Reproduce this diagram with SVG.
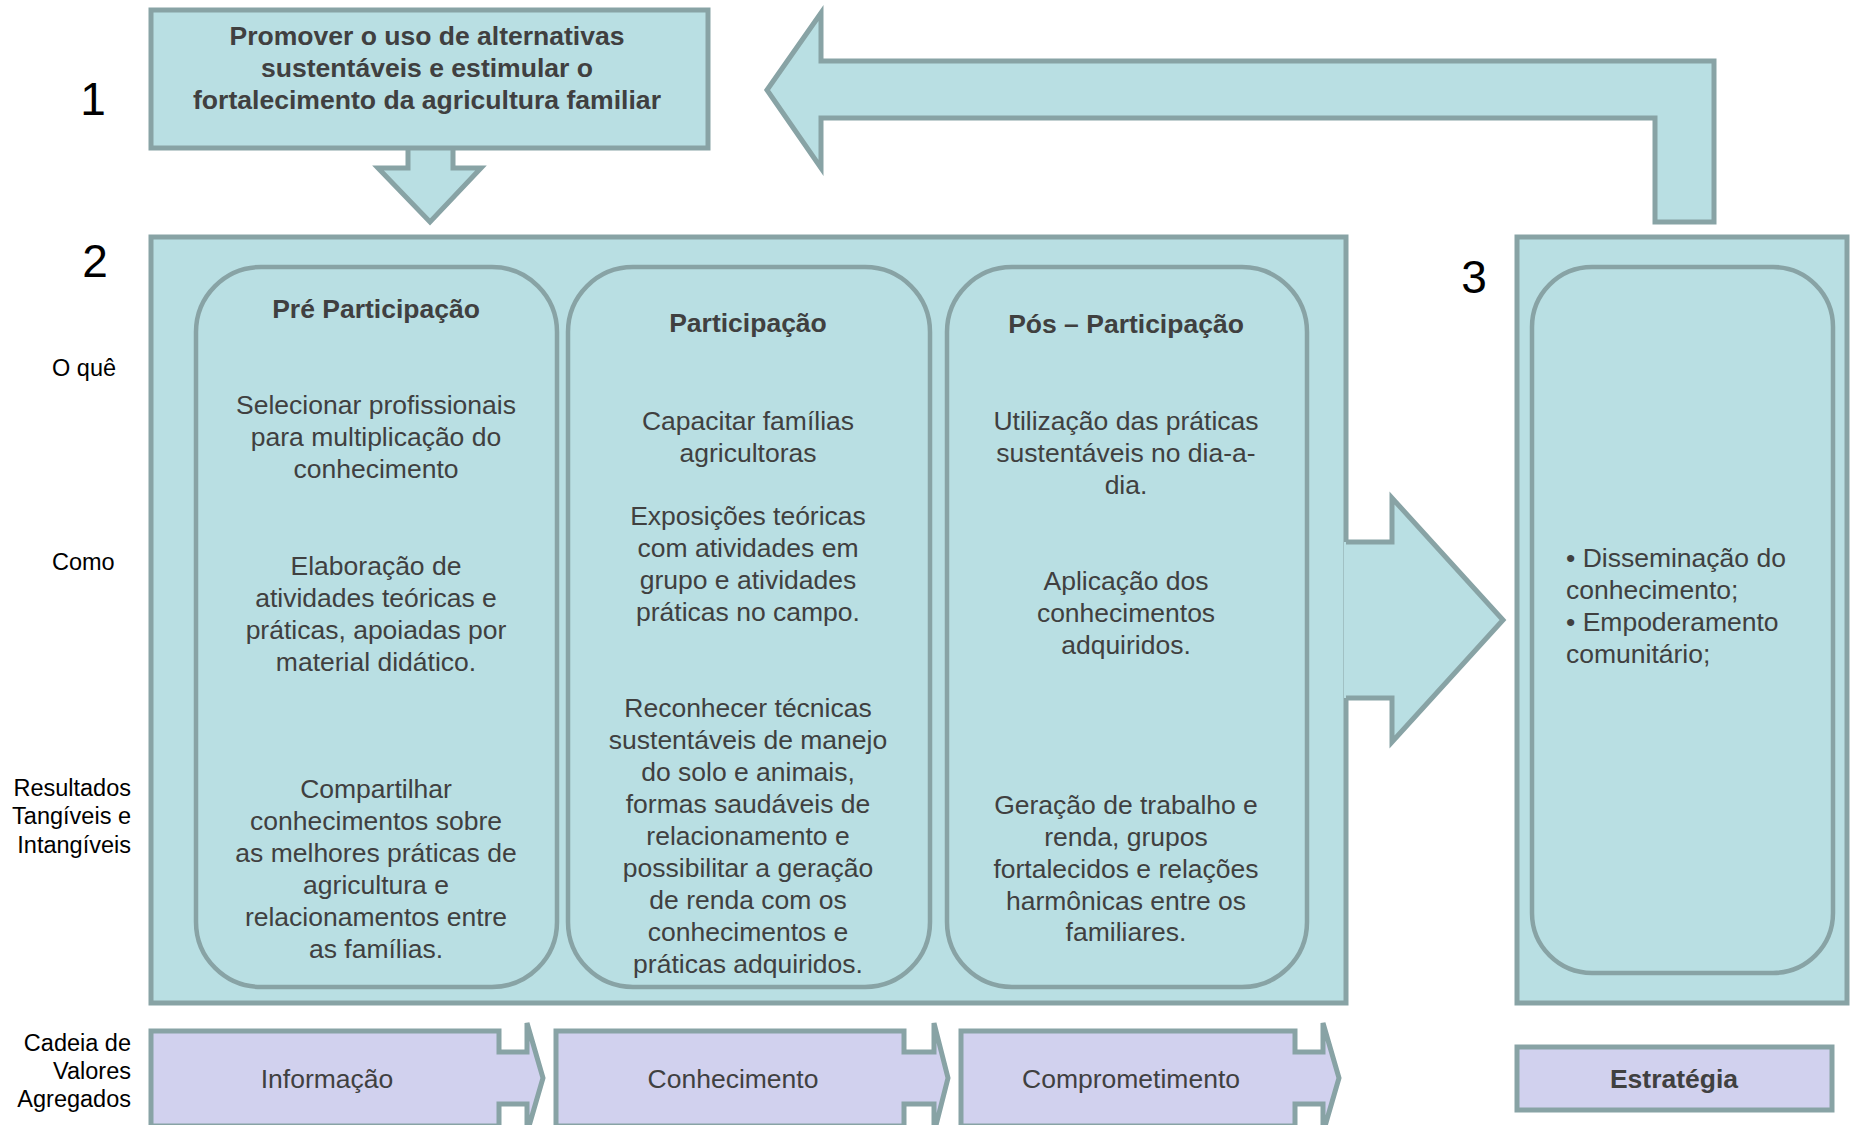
<svg xmlns="http://www.w3.org/2000/svg" width="1853" height="1125" viewBox="0 0 1853 1125">
<style>
.sh{fill:#b9dfe3;stroke:#88a3a5;stroke-width:5;stroke-linejoin:miter}
.col{fill:#b9dfe3;stroke:#88a3a5;stroke-width:4.5}
.lav{fill:#d1d1ee;stroke:#88a3a5;stroke-width:5}
.ln{fill:none;stroke:#88a3a5;stroke-width:5}
text{font-family:"Liberation Sans",Arial,sans-serif;fill:#404040}
.t{font-size:26.5px;text-anchor:middle}
.b{font-size:26.5px;font-weight:bold;text-anchor:middle}
.lab{font-size:23.5px;fill:#000;text-anchor:end}
.labl{font-size:23.5px;fill:#000}
.num{font-size:46px;fill:#000;text-anchor:middle}
</style>
<rect width="1853" height="1125" fill="#ffffff"/>
<g id="connectors">
<polygon class="sh" points="408,140 453,140 453,168 481,168 430,222 378,168 408,168"/>
<polygon class="sh" points="767,90 821,13 821,61 1714,61 1714,222 1655,222 1655,118 821,118 821,168"/>
</g>
<g id="labels">
<text class="num" x="93" y="115">1</text>
<text class="num" x="95" y="277">2</text>
<text class="num" x="1474" y="293">3</text>
<text class="labl" x="52" y="376">O quê</text>
<text class="labl" x="52" y="570">Como</text>
<text class="lab" x="131" y="796">Resultados</text>
<text class="lab" x="131" y="824">Tangíveis e</text>
<text class="lab" x="131" y="853">Intangíveis</text>
<text class="lab" x="131" y="1051">Cadeia de</text>
<text class="lab" x="131" y="1079">Valores</text>
<text class="lab" x="131" y="1107">Agregados</text>
</g>
<g id="node1">
<rect class="sh" x="151" y="10" width="557" height="138"/>
<text class="b" x="427" y="45" font-size="26" textLength="395" lengthAdjust="spacingAndGlyphs">Promover o uso de alternativas</text>
<text class="b" x="427" y="77" font-size="26" textLength="332" lengthAdjust="spacingAndGlyphs">sustentáveis e estimular o</text>
<text class="b" x="427" y="109" font-size="26" textLength="468" lengthAdjust="spacingAndGlyphs">fortalecimento da agricultura familiar</text>
</g>
<g id="node2">
<rect class="sh" x="151" y="237" width="1195" height="766"/>
</g>
<g id="arrow23">
<polygon points="1344,542 1392,542 1392,498 1503,620 1392,742 1392,698 1344,698" fill="#b9dfe3"/>
<polyline class="ln" points="1346,542 1392,542 1392,498 1503,620 1392,742 1392,698 1346,698"/>
</g>
<g id="col1">
<rect class="col" x="196" y="267" width="361" height="720" rx="65" ry="65"/>
<text class="b" x="376" y="318">Pré Participação</text>
<text class="t" x="376" y="414">Selecionar profissionais</text>
<text class="t" x="376" y="446">para multiplicação do</text>
<text class="t" x="376" y="478">conhecimento</text>
<text class="t" x="376" y="575">Elaboração de</text>
<text class="t" x="376" y="607">atividades teóricas e</text>
<text class="t" x="376" y="639">práticas, apoiadas por</text>
<text class="t" x="376" y="671">material didático.</text>
<text class="t" x="376" y="798">Compartilhar</text>
<text class="t" x="376" y="830">conhecimentos sobre</text>
<text class="t" x="376" y="862">as melhores práticas de</text>
<text class="t" x="376" y="894">agricultura e</text>
<text class="t" x="376" y="926">relacionamentos entre</text>
<text class="t" x="376" y="958">as famílias.</text>
</g>
<g id="col2">
<rect class="col" x="568" y="267" width="362" height="720" rx="65" ry="65"/>
<text class="b" x="748" y="332">Participação</text>
<text class="t" x="748" y="430">Capacitar famílias</text>
<text class="t" x="748" y="462">agricultoras</text>
<text class="t" x="748" y="525">Exposições teóricas</text>
<text class="t" x="748" y="557">com atividades em</text>
<text class="t" x="748" y="589">grupo e atividades</text>
<text class="t" x="748" y="621">práticas no campo.</text>
<text class="t" x="748" y="717">Reconhecer técnicas</text>
<text class="t" x="748" y="749">sustentáveis de manejo</text>
<text class="t" x="748" y="781">do solo e animais,</text>
<text class="t" x="748" y="813">formas saudáveis de</text>
<text class="t" x="748" y="845">relacionamento e</text>
<text class="t" x="748" y="877">possibilitar a geração</text>
<text class="t" x="748" y="909">de renda com os</text>
<text class="t" x="748" y="941">conhecimentos e</text>
<text class="t" x="748" y="973">práticas adquiridos.</text>
</g>
<g id="col3">
<rect class="col" x="947" y="267" width="360" height="720" rx="65" ry="65"/>
<text class="b" x="1126" y="333">Pós – Participação</text>
<text class="t" x="1126" y="430">Utilização das práticas</text>
<text class="t" x="1126" y="462">sustentáveis no dia-a-</text>
<text class="t" x="1126" y="494">dia.</text>
<text class="t" x="1126" y="590">Aplicação dos</text>
<text class="t" x="1126" y="622">conhecimentos</text>
<text class="t" x="1126" y="654">adquiridos.</text>
<text class="t" x="1126" y="814">Geração de trabalho e</text>
<text class="t" x="1126" y="846">renda, grupos</text>
<text class="t" x="1126" y="878">fortalecidos e relações</text>
<text class="t" x="1126" y="910">harmônicas entre os</text>
<text class="t" x="1126" y="941">familiares.</text>
</g>
<g id="node3">
<rect class="sh" x="1517" y="237" width="330" height="766"/>
<rect class="col" x="1532" y="267" width="301" height="706" rx="60" ry="60"/>
<text x="1566" y="567" font-size="26.5">• Disseminação do</text>
<text x="1566" y="599" font-size="26.5">conhecimento;</text>
<text x="1566" y="631" font-size="26.5">• Empoderamento</text>
<text x="1566" y="663" font-size="26.5">comunitário;</text>
</g>
<g id="informacao">
<path class="lav" d="M151,1031 H499 V1052 H527 V1023 L543,1078 L527,1133 V1104 H499 V1126 H151 Z"/>
<text class="t" x="327" y="1088">Informação</text>
</g>
<g id="conhecimento">
<path class="lav" d="M556,1031 H904 V1052 H934 V1023 L948,1078 L934,1133 V1104 H904 V1126 H556 Z"/>
<text class="t" x="733" y="1088">Conhecimento</text>
</g>
<g id="comprometimento">
<path class="lav" d="M961,1031 H1295 V1052 H1323 V1023 L1339,1078 L1323,1133 V1104 H1295 V1126 H961 Z"/>
<text class="t" x="1131" y="1088">Comprometimento</text>
</g>
<g id="estrategia">
<rect class="lav" x="1517" y="1047" width="315" height="63"/>
<text class="b" x="1674" y="1088">Estratégia</text>
</g>
</svg>
